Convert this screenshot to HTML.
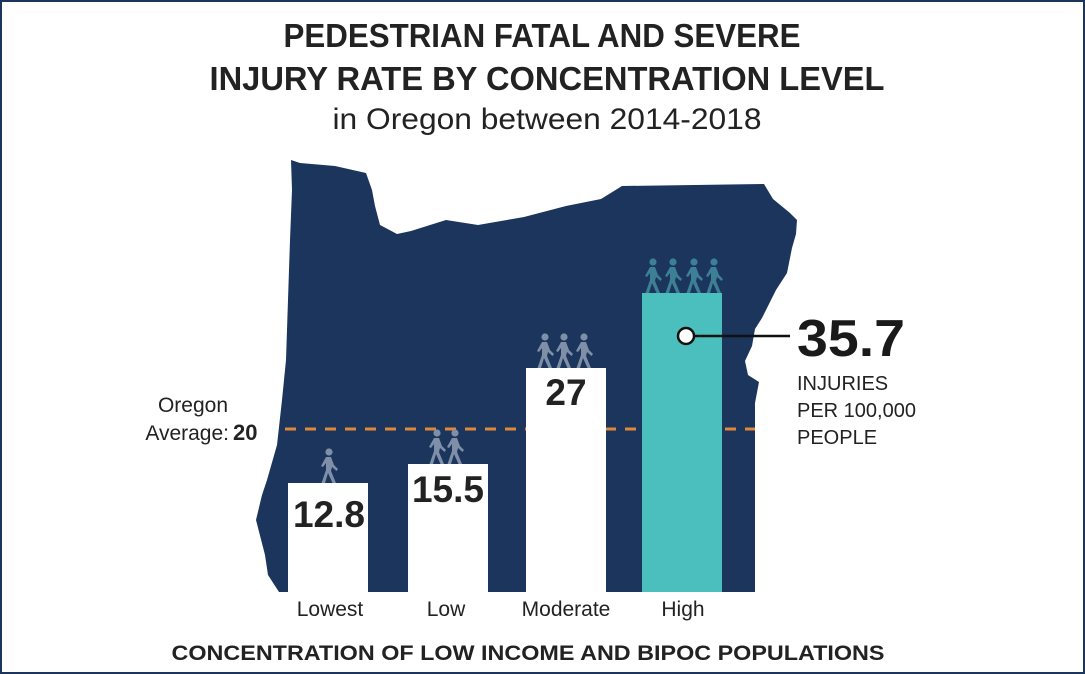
<!DOCTYPE html>
<html><head><meta charset="utf-8"><style>
html,body{margin:0;padding:0;background:#fff}
svg{display:block}
text{font-family:"Liberation Sans",sans-serif}
</style></head><body>
<svg width="1085" height="674" viewBox="0 0 1085 674" xmlns="http://www.w3.org/2000/svg">
<defs>
<g id="w">
<circle cx="9" cy="4" r="3.6"/>
<path d="M6 9 L11 9 L14 17 L18 21 L16.5 23 L12 19 L11 23 L16 35 L12.5 35 L8 25 L5 35 L1.5 35 L6 22 L6 15 L3 19 L1 18 Z"/>
</g>
</defs>
<rect x="1" y="1" width="1083" height="672" fill="#fff" stroke="#1b355c" stroke-width="2"/>
<text x="542" y="47" text-anchor="middle" font-size="33" font-weight="bold" fill="#222" textLength="517" lengthAdjust="spacingAndGlyphs">PEDESTRIAN FATAL AND SEVERE</text>
<text x="547" y="90" text-anchor="middle" font-size="33" font-weight="bold" fill="#222" textLength="675" lengthAdjust="spacingAndGlyphs">INJURY RATE BY CONCENTRATION LEVEL</text>
<text x="547" y="129" text-anchor="middle" font-size="30" fill="#222" textLength="429" lengthAdjust="spacingAndGlyphs">in Oregon between 2014-2018</text>
<path fill="#1b355c" d="M291 160 L300 163 L335 166 L366 173 L372 190 L375 206 L380 225 L397 234 L411 231 L446 220 L478 225 L524 217 L566 206 L601 199 L622 186 L764 184 L773 199 L790 213 L797 220 L796 234 L792 248 L787 273 L776 290 L762 318 L755 329 L752 346 L745 361 L748 375 L759 382 L755 403 L755 592 L279 592 L268 575 L265 555 L256 520 L262 495 L267 480 L277 445 L282 400 L286 360 L288 300 L290 240 L292 190 Z"/>
<line x1="285" y1="429" x2="755" y2="429" stroke="#e0883a" stroke-width="3" stroke-dasharray="11 9"/>
<rect x="288" y="483" width="80" height="109" fill="#fff"/>
<rect x="408" y="464" width="80" height="128" fill="#fff"/>
<rect x="526" y="368" width="80" height="224" fill="#fff"/>
<rect x="642" y="293" width="80" height="299" fill="#4bbfbd"/>
<g fill="#7f8fa8">
<use href="#w" x="320" y="448"/>
<use href="#w" x="428" y="429"/><use href="#w" x="446" y="429"/>
<use href="#w" x="536" y="333"/><use href="#w" x="555" y="333"/><use href="#w" x="575" y="333"/>
</g>
<g fill="#3d7f95">
<use href="#w" x="644" y="258"/><use href="#w" x="664" y="258"/><use href="#w" x="685" y="258"/><use href="#w" x="705" y="258"/>
</g>
<text x="329" y="527" text-anchor="middle" font-size="37" font-weight="bold" fill="#222">12.8</text>
<text x="448" y="502" text-anchor="middle" font-size="37" font-weight="bold" fill="#222">15.5</text>
<text x="566" y="405" text-anchor="middle" font-size="37" font-weight="bold" fill="#222">27</text>
<line x1="690" y1="336" x2="790" y2="336" stroke="#111" stroke-width="2.5"/>
<circle cx="686" cy="336" r="8" fill="#fff" stroke="#111" stroke-width="2.5"/>
<text x="797" y="356" font-size="52" font-weight="bold" fill="#1a1a1a" textLength="108" lengthAdjust="spacingAndGlyphs">35.7</text>
<text x="797" y="390" font-size="20" fill="#222">INJURIES</text>
<text x="797" y="417" font-size="20" fill="#222">PER 100,000</text>
<text x="797" y="444" font-size="20" fill="#222">PEOPLE</text>
<text x="228" y="412" text-anchor="end" font-size="21" fill="#222">Oregon</text>
<text x="229" y="440" text-anchor="end" font-size="21" fill="#222">Average:</text>
<text x="233" y="440" font-size="22" font-weight="bold" fill="#222">20</text>
<g font-size="21" fill="#222" text-anchor="middle">
<text x="330" y="616">Lowest</text>
<text x="446" y="616">Low</text>
<text x="566" y="616">Moderate</text>
<text x="683" y="616">High</text>
</g>
<text x="528" y="660" text-anchor="middle" font-size="21" font-weight="bold" fill="#222" textLength="713" lengthAdjust="spacingAndGlyphs">CONCENTRATION OF LOW INCOME AND BIPOC POPULATIONS</text>
</svg>
</body></html>
